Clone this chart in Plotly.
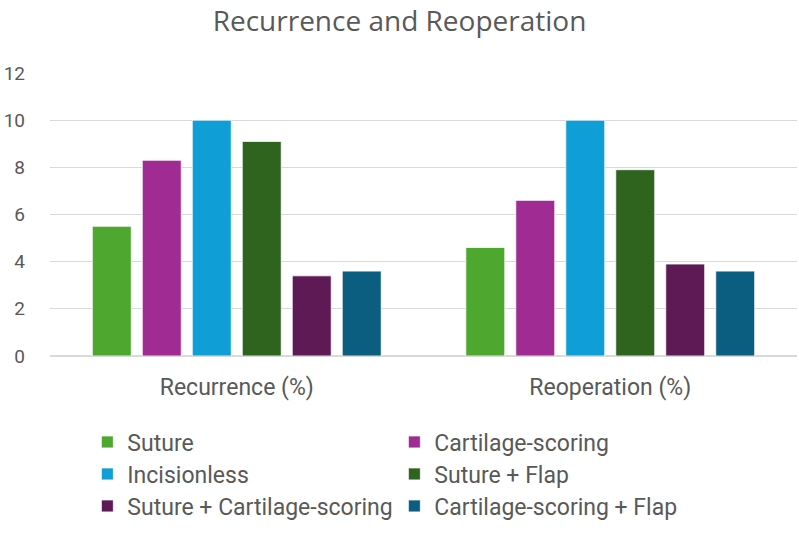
import plotly.graph_objects as go

categories = ["Recurrence (%)", "Reoperation (%)"]
series_names = ["Suture", "Cartilage-scoring", "Incisionless", "Suture + Flap",
                "Suture + Cartilage-scoring", "Cartilage-scoring + Flap"]
suture = [5.5, 4.6]
cartilage = [8.3, 6.6]
incisionless = [10.0, 10.0]
suture_flap = [9.1, 7.9]
suture_cart = [3.4, 3.9]
cart_flap = [3.6, 3.6]
values = [suture, cartilage, incisionless, suture_flap, suture_cart, cart_flap]
colors = ["#4EA72E", "#A02B93", "#0F9ED5", "#2E641E", "#5E1A54", "#0B5E80"]
legends = ["legend", "legend", "legend2", "legend2", "legend3", "legend3"]

FONT = "Roboto, sans-serif"
GREY = "#595959"

fig = go.Figure()
for name, vals, col, lg in zip(series_names, values, colors, legends):
    fig.add_trace(go.Bar(x=categories, y=vals, name=name, marker_color=col,
                         marker_line=dict(color="rgba(255,255,255,0.8)", width=1),
                         legend=lg))

leg_common = dict(orientation="h", x=0.05, xanchor="left", yanchor="middle",
                  font=dict(family=FONT, size=23, color=GREY),
                  entrywidth=262, entrywidthmode="pixels",
                  bgcolor="rgba(0,0,0,0)", itemclick=False)

def ypos(py):
    # convert pixel y to paper coordinate
    top, bottom = 73, 551 - 195
    return (bottom - py) / (bottom - top)

fig.update_layout(
    width=799, height=551,
    margin=dict(l=50, r=2, t=73, b=195),
    paper_bgcolor="white", plot_bgcolor="white",
    title=dict(text="Recurrence and Reoperation", x=0.5, xanchor="center",
               y=1 - 21 / 551, yanchor="middle",
               font=dict(family="Open Sans, sans-serif", size=28, color=GREY)),
    barmode="group", bargap=0.197, bargroupgap=0.22,
    font=dict(family=FONT, color=GREY),
    legend=dict(**leg_common, y=ypos(442)),
    legend2=dict(**leg_common, y=ypos(474)),
    legend3=dict(**leg_common, y=ypos(506)),
)
fig.update_yaxes(range=[0, 12], dtick=2, showgrid=True, gridcolor="#D9D9D9",
                 gridwidth=1, zeroline=True, zerolinecolor="#D9D9D9",
                 showline=False, ticks="", ticklabelstandoff=24,
                 tickfont=dict(family=FONT, size=19, color=GREY))
fig.update_xaxes(showline=False, ticks="", ticklabelstandoff=15,
                 tickfont=dict(family=FONT, size=23, color=GREY))

fig.write_html("out.html")
